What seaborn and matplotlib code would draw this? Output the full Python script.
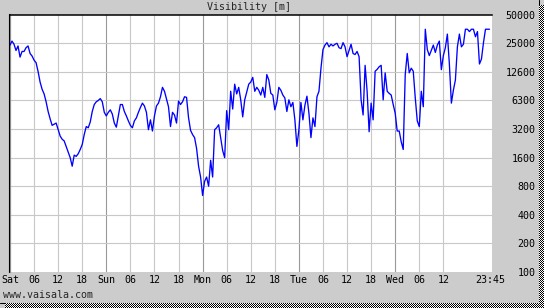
import numpy as np
import pandas as pd
import matplotlib
matplotlib.use("Agg")
import matplotlib.pyplot as plt
from matplotlib.lines import Line2D
import seaborn as sns

# ---- data (visibility in metres, 30-minute samples starting Saturday 00:00) ----
vis_sat = [24500, 27000, 25000, 21500, 24000, 18300, 21000, 21000, 23000, 24000,
           20000, 18800, 17000, 16000, 12900, 10000, 8400, 7500, 6200, 4900,
           4100, 3500, 3600, 3700, 3150, 2700, 2500, 2400, 2100, 1840,
           1600, 1300, 1700, 1650, 1760, 1950, 2200, 2800, 3400, 3300,
           3800, 4900, 5800, 6200, 6400, 6700, 6200, 4800]
vis_sun = [4400, 4800, 5100, 4600, 3700, 3350, 4400, 5800, 5800, 4900,
           4400, 3900, 3500, 3300, 3900, 4200, 4800, 5400, 6000, 5600,
           4800, 3150, 4000, 3050, 4400, 5600, 6000, 7000, 8800, 8000,
           6600, 5500, 3400, 4800, 4500, 3700, 6300, 5800, 6200, 7000,
           6900, 4200, 3100, 2800, 2600, 2000, 1300, 1000]
vis_mon = [640, 900, 1000, 800, 1500, 1000, 3150, 3300, 3550, 2600,
           1900, 1600, 5000, 3150, 8000, 5200, 9500, 7500, 8800, 6500,
           4300, 6500, 7900, 9500, 10000, 11200, 8000, 8800, 8200, 7300,
           8800, 6900, 12000, 10500, 7600, 7300, 5100, 6100, 8800, 8200,
           7300, 6800, 4900, 6500, 5500, 6100, 4000, 2100]
vis_tue = [3150, 6100, 4000, 5700, 7100, 4700, 2600, 4200, 3400, 7000,
           8000, 14000, 22000, 24500, 26000, 23500, 25000, 24000, 25000, 25600,
           23000, 22500, 26000, 23500, 18500, 21500, 25000, 20000, 19500, 21000,
           18500, 6500, 4500, 15000, 8000, 3000, 6000, 4000, 13000, 13600,
           14500, 15000, 6500, 12500, 8000, 7600, 7300, 5800]
vis_wed = [4700, 3050, 3050, 2350, 1950, 12000, 20000, 12500, 14000, 13000,
           6800, 3900, 3400, 8000, 5500, 36000, 22000, 19000, 21500, 24500,
           20500, 24500, 27000, 13500, 19000, 23000, 32000, 15500, 6000, 8200,
           10500, 23500, 32000, 23500, 25000, 36000, 36000, 34000, 36000, 36000,
           30000, 34000, 15500, 17500, 26000, 36000, 36000, 36000]

visibility = vis_sat + vis_sun + vis_mon + vis_tue + vis_wed
hours = np.arange(len(visibility)) * 0.5

x_tick_hours = [0, 6, 12, 18, 24, 30, 36, 42, 48, 54, 60, 66, 72, 78, 84, 90,
                96, 102, 108, 119.75]
x_tick_labels = ["Sat", "06", "12", "18", "Sun", "06", "12", "18", "Mon", "06",
                 "12", "18", "Tue", "06", "12", "18", "Wed", "06", "12", "23:45"]
day_hours = [24, 48, 72, 96]
y_tick_values = [100, 200, 400, 800, 1600, 3200, 6400, 12800, 25600, 51200]
y_tick_labels = ["100", "200", "400", "800", "1600", "3200", "6300", "12600",
                 "25000", "50000"]
title = "Visibility [m]"
footer = "www.vaisala.com"

df = pd.DataFrame({"hours": hours, "visibility": visibility})

# ---- styling ----
sns.set_style("white")
plt.rcParams["font.family"] = ["DejaVu Sans Mono", "DejaVu Sans"]
FS = 7.2
BG = "#cccccc"

W, H = 544, 308
fig = plt.figure(figsize=(W / 100, H / 100), dpi=100, facecolor=BG)
left_px, right_px, top_px, bottom_px = 10, 491.5, 14.7, 272
ax = fig.add_axes([left_px / W, (H - bottom_px) / H,
                   (right_px - left_px) / W, (bottom_px - top_px) / H])
ax.set_facecolor("white")

ax.set_yscale("log", base=2)
ax.set_ylim(y_tick_values[0], y_tick_values[-1])
ax.set_xlim(0, 120)

# grid
for h in x_tick_hours[:-1]:
    if h == 0:
        continue
    col = "#999999" if h in day_hours else "#c8c8c8"
    ax.axvline(h, color=col, lw=0.8, zorder=1)
for v in y_tick_values[1:-1]:
    ax.axhline(v, color="#c8c8c8", lw=0.8, zorder=1)

sns.lineplot(data=df, x="hours", y="visibility", color="#0000ff", lw=0.95,
             ax=ax, zorder=3)

ax.set_xlabel("")
ax.set_ylabel("")

ax.set_xticks(x_tick_hours)
ax.set_xticklabels(x_tick_labels, fontsize=FS, color="black")
ax.yaxis.tick_right()
ax.set_yticks(y_tick_values)
ax.set_yticklabels(y_tick_labels, fontsize=FS, color="black")
ax.yaxis.set_minor_locator(matplotlib.ticker.NullLocator())
ax.tick_params(axis="x", length=0, pad=2.2)
ax.tick_params(axis="y", length=0, pad=31.6)
for lbl in ax.get_yticklabels():
    lbl.set_horizontalalignment("right")

for s in ["bottom", "right"]:
    ax.spines[s].set_visible(False)
ax.spines["top"].set_color("black")
ax.spines["top"].set_linewidth(1.1)
ax.spines["left"].set_color("#909090")
ax.spines["left"].set_linewidth(1.6)
fig.add_artist(Line2D([8.6 / W, 8.6 / W], [(H - bottom_px) / H, (H - top_px + 0.5) / H],
                      transform=fig.transFigure, color="black", lw=0.75))

# title and footer
fig.text(249 / W, 1 - 7.3 / H, title, ha="center", va="center", fontsize=FS)
fig.text(3 / W, 1 - 295 / H, footer, ha="left", va="center", fontsize=FS)

# panel border + dithered shadow
fig.add_artist(Line2D([538.5 / W, 538.5 / W], [5 / H, 1], transform=fig.transFigure,
                      color="black", lw=0.75))
fig.add_artist(Line2D([0, 538.5 / W], [5.5 / H, 5.5 / H], transform=fig.transFigure,
                      color="black", lw=0.75))
yy, xx = np.indices((303, 5))
fig.figimage(((yy + xx) % 2).astype(float), xo=539, yo=0, cmap="gray",
             vmin=0, vmax=1, origin="upper", zorder=5)
yy, xx = np.indices((5, 539))
fig.figimage(((yy + xx) % 2).astype(float), xo=5, yo=0, cmap="gray",
             vmin=0, vmax=1, origin="upper", zorder=5)

fig.savefig("out.png", dpi=100, facecolor=BG)
